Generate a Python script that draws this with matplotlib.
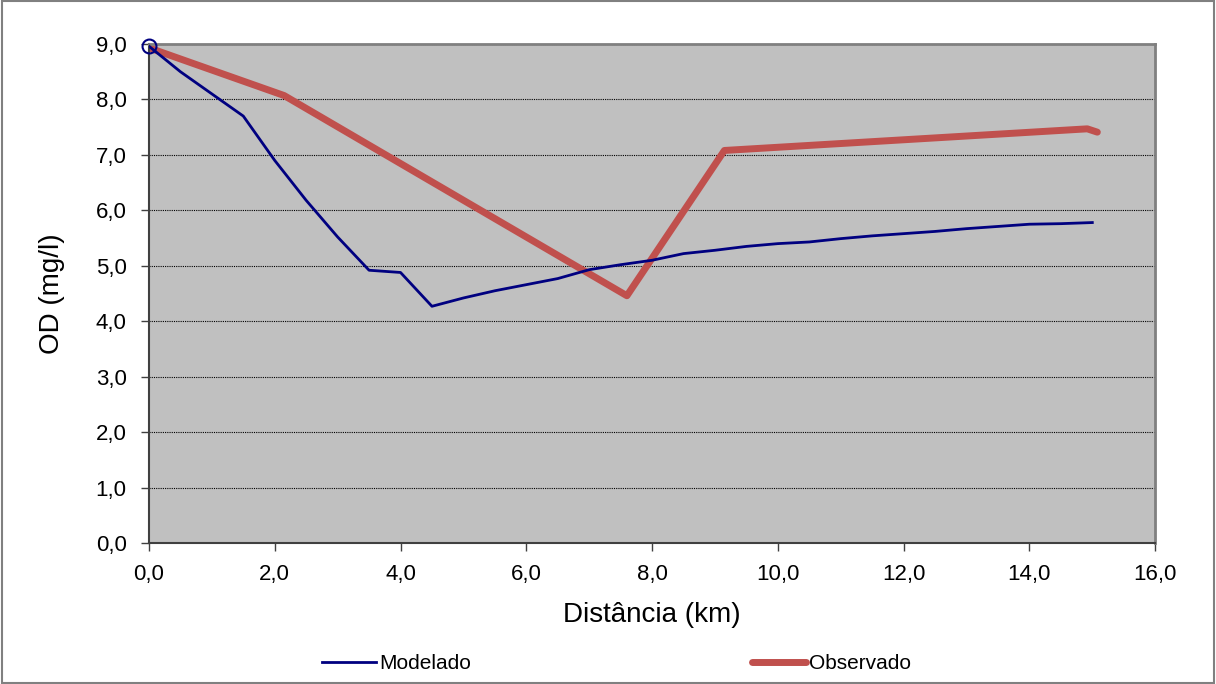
import numpy as np
import matplotlib.pyplot as plt
from matplotlib.patches import Rectangle
from matplotlib.ticker import FuncFormatter, MultipleLocator

plt.rcParams['font.family'] = ['Liberation Sans', 'DejaVu Sans']

# Modelado (model output)
dist_mod = [0.0, 0.5, 1.0, 1.5, 2.0, 2.5, 3.0, 3.5, 4.0, 4.5, 5.0, 5.5, 6.0, 6.5,
            7.0, 7.5, 8.0, 8.5, 9.0, 9.5, 10.0, 10.5, 11.0, 11.5, 12.0, 12.5,
            13.0, 13.5, 14.0, 14.5, 15.0]
od_mod = [8.96, 8.50, 8.10, 7.70, 6.90, 6.18, 5.52, 4.92, 4.88, 4.27, 4.42, 4.55,
          4.66, 4.77, 4.93, 5.02, 5.10, 5.22, 5.28, 5.35, 5.40, 5.43, 5.49, 5.54,
          5.58, 5.62, 5.67, 5.71, 5.75, 5.76, 5.78]

# Observado (measured)
dist_obs = [0.0, 2.15, 7.6, 9.15, 14.92, 15.08]
od_obs = [8.93, 8.07, 4.46, 7.08, 7.47, 7.41]

fig = plt.figure(figsize=(12.16, 6.84), dpi=100)
fig.patches.append(Rectangle((0.002, 0.002), 0.996, 0.996, transform=fig.transFigure,
                             fill=False, edgecolor='#808080', linewidth=1.5))

ax = fig.add_axes([0.1225, 0.206, 0.8275, 0.7297])
ax.set_facecolor('#c0c0c0')

ax.plot(dist_mod, od_mod, color='#000080', linewidth=2, label='Modelado', zorder=3)
ax.plot(dist_obs, od_obs, color='#c0504d', linewidth=5, label='Observado',
        solid_capstyle='round', solid_joinstyle='round', zorder=2)
ax.plot(dist_mod[0], od_mod[0], 'o', markersize=10, markerfacecolor='none',
        markeredgecolor='#000080', markeredgewidth=1.5, zorder=4, clip_on=False)

ax.set_xlim(0, 16)
ax.set_ylim(0, 9)
ax.xaxis.set_major_locator(MultipleLocator(2))
ax.yaxis.set_major_locator(MultipleLocator(1))
fmt = FuncFormatter(lambda v, p: f'{v:.1f}'.replace('.', ','))
ax.xaxis.set_major_formatter(fmt)
ax.yaxis.set_major_formatter(fmt)

ax.grid(axis='y', color='black', linestyle=(0, (1, 1)), linewidth=0.8)
ax.set_axisbelow(True)

for s in ['left', 'bottom']:
    ax.spines[s].set_color('#404040')
    ax.spines[s].set_linewidth(1.5)
for s in ['top', 'right']:
    ax.spines[s].set_color('#808080')
    ax.spines[s].set_linewidth(2)

ax.tick_params(axis='both', direction='out', length=6, width=1, color='#404040',
               labelsize=16)
ax.tick_params(axis='x', pad=9)
ax.tick_params(axis='y', pad=10)

ax.set_xlabel('Distância (km)', fontsize=20, labelpad=12)
ax.set_ylabel('OD (mg/l)', fontsize=20, labelpad=22)

fig.legend(loc='lower center', bbox_to_anchor=(0.507, -0.012), ncol=2, frameon=False,
           fontsize=15, columnspacing=13.5, handlelength=2.6, handletextpad=0.15)

plt.savefig('out.png', dpi=100)
